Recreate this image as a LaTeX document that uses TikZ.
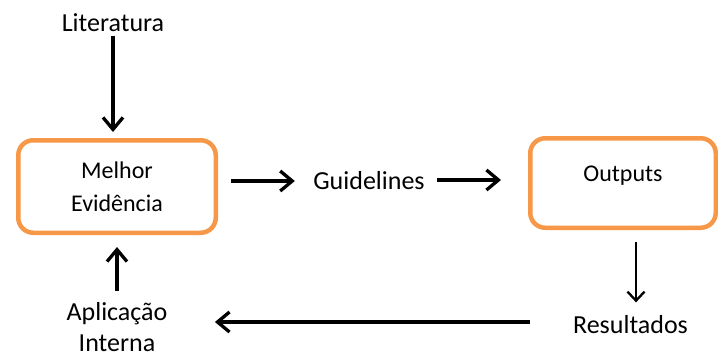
\documentclass[tikz,border=0pt]{standalone}
\usepackage{fontspec}
\setmainfont{Carlito}
\usetikzlibrary{arrows.meta}
\definecolor{laranja}{RGB}{246,152,72}
\begin{document}
\begin{tikzpicture}[x=1pt,y=-1pt,
	caixa/.style={draw=laranja,line width=4.5pt,rounded corners=15pt,align=center,font=\fontsize{24}{33}\selectfont},
	rotulo/.style={align=center,font=\fontsize{26}{31}\selectfont},
	seta/.style={-{Straight Barb[length=12pt,width=20pt]},line width=3.3pt},
	setafina/.style={-{Straight Barb[length=9pt,width=17pt]},line width=2.3pt}]
	\useasboundingbox (0,0) rectangle (718,351);
	\node[rotulo] (lit) at (113,23) {Literatura};
	\node[caixa,minimum width=197.5pt,minimum height=92.5pt] (melhor) at (117,186.5) {Melhor\\Evidência};
	\node[rotulo] (guide) at (369,181) {Guidelines};
	\node[caixa,minimum width=185.5pt,minimum height=89.5pt,text depth=19pt] (out) at (623,183) {Outputs};
	\node[rotulo] (res) at (630.5,325) {Resultados};
	\node[rotulo] (apl) at (117,327) {Aplicação\\Interna};
	\draw[seta,shorten >=6pt] (lit) -- (lit |- melhor.north);
	\draw[seta,shorten <=13pt,shorten >=15pt] (melhor.east |- guide.west) -- (guide.west);
	\draw[seta,shorten <=9pt,shorten >=27pt] ([yshift=1pt]guide.east) -- ([yshift=1pt]guide.east -| out.west);
	\draw[setafina,shorten <=12pt,shorten >=10pt] ([xshift=5.5pt]res.north |- out.south) -- ([xshift=5.5pt]res.north);
	\draw[seta,shorten <=40pt,shorten >=44pt] ([yshift=3pt]res.west) -- ([yshift=3pt]res.west -| apl.east);
	\draw[seta,shorten <=8pt,shorten >=12pt] (melhor.south |- apl.north) -- (melhor.south);
\end{tikzpicture}
\end{document}
